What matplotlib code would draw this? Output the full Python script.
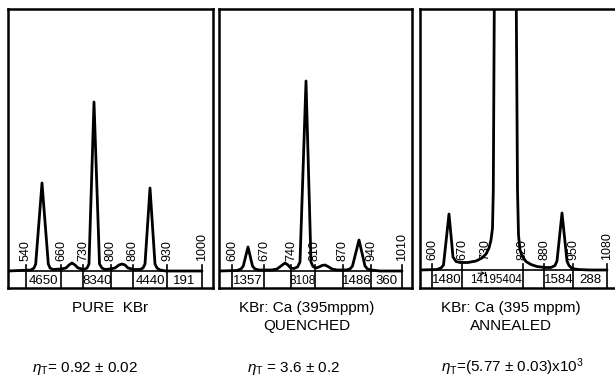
import matplotlib
matplotlib.use("Agg")
import matplotlib.pyplot as plt

plt.rcParams['font.family'] = ['Liberation Sans', 'DejaVu Sans']
plt.rcParams['mathtext.fontset'] = 'custom'
plt.rcParams['mathtext.rm'] = 'Liberation Sans'
plt.rcParams['mathtext.it'] = 'Liberation Sans:italic'

# ---------------- data (arbitrary display units) ----------------
# Panel 1 : pure KBr
p1_channels = ['540', '660', '730', '800', '860', '930', '1000']
p1_ticks = [18, 53, 75, 103, 125, 159, 194]
p1_counts = ['4650', '', '8340', '', '4440', '191']
p1_x = [0, 23, 26, 27.7, 34, 40.3, 42, 45, 53, 58, 61, 64, 67, 70, 76, 79, 81, 86, 91.5,
        94, 97, 102, 107, 111, 114, 117, 120, 126, 132, 135, 137, 142, 147, 149, 152, 158, 194]
p1_y = [0, 1, 3, 7, 88, 7, 3, 1.5, 2, 3, 6, 8, 6, 3, 1.5, 3, 7, 169, 7,
        3, 1.5, 2, 3, 6, 7, 6, 3, 1.5, 1.5, 3, 7, 83, 7, 3, 1, 0, 0]

# Panel 2 : KBr:Ca quenched
p2_channels = ['600', '670', '740', '810', '870', '940', '1010']
p2_ticks = [13, 45, 72, 96, 124, 152, 183]
p2_counts = ['1357', '', '8108', '', '1486', '360']
p2_x = [0, 18, 22, 24.3, 29, 33.5, 36, 40, 53, 58, 62, 66, 69, 71.5, 75, 78.5, 81, 87, 92,
        94, 97, 100, 103, 106, 109, 113, 118, 127, 131, 133.5, 140, 146, 148.5, 152, 161, 183]
p2_y = [0, 0.5, 2, 5, 24, 5, 2, 1, 1, 2, 5, 8, 6, 3, 2.5, 4, 9, 190, 9,
        4.5, 3, 4, 5.5, 6, 4.5, 2, 1, 1, 2, 5, 31, 5, 2, 1, 0, 0]

# Panel 3 : KBr:Ca annealed (central peak goes off scale)
p3_channels = ['600', '670', '730', '820', '880', '950', '1080']
p3_ticks = [12, 42, 65, 103, 124, 153, 187]
p3_counts = ['1480', '', '14195404', '', '1584', '288']
p3_x = [0, 17, 21, 23.5, 29, 33, 36, 40, 48, 56, 62, 66, 69, 71, 72.5, 73.3, 74.6,
        95.9, 97.5, 98.5, 100, 102, 106, 111, 117, 125, 131, 135, 137, 142, 147, 149, 152, 158, 170, 187]
p3_y = [0, 0.5, 2, 5, 56, 13, 8.5, 7.5, 7.5, 9, 12, 16, 22, 30, 42, 80, 320,
        320, 80, 35, 20, 14, 8.5, 5.5, 3.5, 2.5, 2.5, 4.5, 9, 57, 9, 4.5, 1.5, 0.5, 0, 0]

captions = ['PURE  KBr', 'KBr: Ca (395mppm)\nQUENCHED', 'KBr: Ca (395 mppm)\nANNEALED']
efficiencies = [r'$\eta_{\rm T}$= 0.92 ± 0.02',
                r'$\eta_{\rm T}$ = 3.6 ± 0.2',
                r'$\eta_{\rm T}$=(5.77 ± 0.03)x10$^3$']

# ---------------- layout ----------------
FW, FH = 615, 383
fig = plt.figure(figsize=(FW / 100, FH / 100), dpi=100)
fig.patch.set_facecolor('white')

TOP, BOT = 8.5, 287.5
panels = [
    dict(left=8, right=213, base=271, ch=p1_channels, tk=p1_ticks, ct=p1_counts, x=p1_x, y=p1_y,
         cap_x=110, eta_x=32),
    dict(left=219, right=412, base=271, ch=p2_channels, tk=p2_ticks, ct=p2_counts, x=p2_x, y=p2_y,
         cap_x=307, eta_x=247),
    dict(left=420, right=622, base=270, ch=p3_channels, tk=p3_ticks, ct=p3_counts, x=p3_x, y=p3_y,
         cap_x=511, eta_x=441),
]

DIGIT_EM = 0.556 * 100 / 72  # px per pt for one digit


def fit_size(text, width, size=9.5, smallest=8.5):
    return max(smallest, min(size, width / (len(text) * DIGIT_EM)))


for i, p in enumerate(panels):
    ax = fig.add_axes([p['left'] / FW, 1 - BOT / FH, (p['right'] - p['left']) / FW, (BOT - TOP) / FH])
    ax.set_xlim(0, p['right'] - p['left'])
    y0 = -(BOT - p['base'])
    ax.set_ylim(y0, p['base'] - TOP)
    ax.set_xticks([])
    ax.set_yticks([])
    for s in ax.spines.values():
        s.set_linewidth(1.8)
    # spectrum
    ax.plot(p['x'], p['y'], color='black', lw=2.0, solid_joinstyle='round', solid_capstyle='round')
    # table top line
    ax.plot([0, p['tk'][-1]], [0, 0], color='black', lw=1.2)
    # boundary ticks + channel labels
    for j, (t, lab) in enumerate(zip(p['tk'], p['ch'])):
        if i == 2 and lab == '730':
            ax.plot([t, t], [-1.5, -5], color='black', lw=0.9)
            ax.annotate('', xy=(t, -3.2), xytext=(t - 7, -3.2),
                        arrowprops=dict(arrowstyle='->', lw=0.7, color='black',
                                        shrinkA=0, shrinkB=0, mutation_scale=5))
        else:
            ax.plot([t, t], [y0, 6], color='black', lw=1.2)
        ax.text(t, 10, lab, rotation=90, ha='center', va='bottom', fontsize=9)
    # counts in table
    for j, c in enumerate(p['ct']):
        if not c:
            continue
        a, b = p['tk'][j], p['tk'][j + 1]
        if len(c) > 5:
            ax.text(b - 0.5, -13, c, ha='right', va='baseline',
                    fontsize=fit_size(c, 52, smallest=7))
        else:
            ax.text((a + b) / 2, -13, c, ha='center', va='baseline',
                    fontsize=fit_size(c, b - a + 2))
    if i == 2:
        ax.spines['right'].set_visible(False)

    # captions below panel
    lines = captions[i].split('\n')
    for k, line in enumerate(lines):
        fig.text(p['cap_x'] / FW, 1 - (312 + 18 * k) / FH, line, ha='center', va='baseline', fontsize=11)
    fig.text(p['eta_x'] / FW, 1 - 372 / FH, efficiencies[i], ha='left', va='baseline', fontsize=11)

fig.savefig('out.png', dpi=100, facecolor='white')
